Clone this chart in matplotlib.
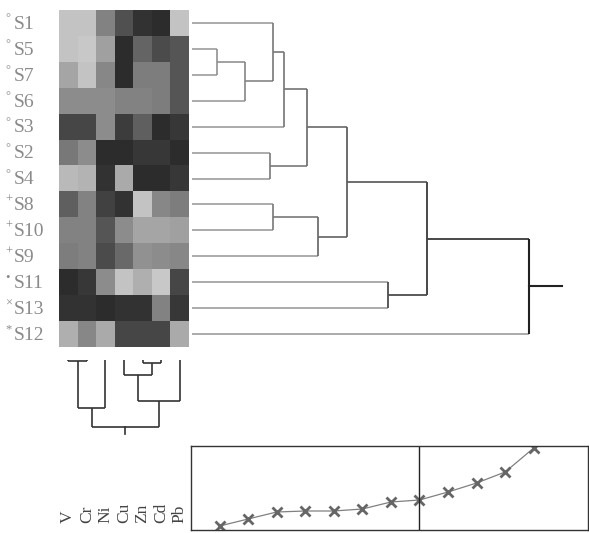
import numpy as np
import matplotlib
matplotlib.use('Agg')
import matplotlib.pyplot as plt
from matplotlib.transforms import blended_transform_factory

##------------------------------------------
# data
samples = ['S1', 'S5', 'S7', 'S6', 'S3', 'S2', 'S4', 'S8', 'S10', 'S9', 'S11', 'S13', 'S12']
marks = ['°', '°', '°', '°', '°', '°', '°', '+', '+', '+', '•', '×', '*']
metals = ['V', 'Cr', 'Ni', 'Cu', 'Zn', 'Cd', 'Pb']

# grey level of each cell (0 black .. 255 white), one row per sample
levels = [
    [195, 195, 130, 80, 50, 45, 195],
    [195, 200, 160, 45, 100, 75, 85],
    [165, 195, 135, 45, 125, 125, 85],
    [140, 140, 140, 130, 130, 125, 85],
    [70, 70, 140, 60, 95, 45, 55],
    [120, 140, 45, 45, 55, 55, 45],
    [185, 180, 50, 170, 45, 45, 55],
    [95, 130, 65, 50, 195, 135, 125],
    [130, 130, 85, 140, 165, 165, 160],
    [125, 130, 75, 105, 145, 140, 135],
    [45, 55, 140, 195, 175, 200, 70],
    [50, 50, 45, 50, 50, 130, 55],
    [175, 135, 170, 70, 70, 70, 170],
]

# row tree: (child a, child b, height); leaves are 0..12 in display order
row_merges = [(1, 2, 2.5), (13, 3, 5.3), (5, 6, 7.8), (0, 14, 8.1), (7, 8, 8.1),
              (16, 4, 9.2), (18, 15, 11.5), (17, 9, 12.6), (19, 20, 15.5),
              (10, 11, 19.6), (21, 22, 23.5), (23, 12, 33.7)]
row_root_end = 37.0

# column tree
col_merges = [(0, 1, 0.5), (4, 5, 3.0), (3, 8, 15.0), (9, 6, 41.0), (7, 2, 48.0), (11, 10, 67.0)]
col_root_end = 74.0

# merge heights (scree)
steps = [1, 2, 3, 4, 5, 6, 7, 8, 9, 10, 11, 12]
fusion = [4, 11, 18, 19, 19, 21, 28, 30, 38, 47, 58, 82]
cut_step = 8

W, H = 589, 533
serif = ['Liberation Serif', 'DejaVu Serif']


def box(x0, y0, x1, y1):
    # pixel box (top-left origin) -> figure fraction rect
    return [x0 / W, (H - y1) / H, (x1 - x0) / W, (y1 - y0) / H]


def tree_segments(n, merges):
    pos = list(range(n)) + [0.0] * len(merges)
    hgt = [0.0] * (n + len(merges))
    segs = []
    for k, (a, b, h) in enumerate(merges):
        node = n + k
        pos[node] = (pos[a] + pos[b]) / 2.0
        hgt[node] = h
        segs.append(((hgt[a], h), (pos[a], pos[a]), hgt[a]))
        segs.append(((hgt[b], h), (pos[b], pos[b]), hgt[b]))
        segs.append(((h, h), (pos[a], pos[b]), h))
    return segs, pos[-1], hgt[-1]


fig = plt.figure(figsize=(W / 100.0, H / 100.0), dpi=100)

#------------------------------------------------------------
# heat map
ax_heat = fig.add_axes(box(59, 10, 189, 347))
ax_heat.imshow(np.array(levels), cmap='gray', vmin=0, vmax=255, aspect='auto',
               interpolation='nearest')
ax_heat.axis('off')

tr = blended_transform_factory(fig.transFigure, ax_heat.transData)
for i, name in enumerate(samples):
    ax_heat.text(5 / W, i - 0.18, marks[i], transform=tr, ha='left', va='center',
                 fontsize=9, color='#8a8a8a', family=serif)
    ax_heat.text(14 / W, i + 0.05, name, transform=tr, ha='left', va='center',
                 fontsize=14, color='#8a8a8a', family=serif)

trc = blended_transform_factory(ax_heat.transData, fig.transFigure)
for j, name in enumerate(metals):
    ax_heat.text(j, 10 / H, name, transform=trc, rotation=90, ha='center', va='bottom',
                 fontsize=12.5, color='#444444', family=serif)

#------------------------------------------------------------
# row dendrogram
ax_row = fig.add_axes(box(192, 10, 589, 347))
segs, root_pos, root_h = tree_segments(len(samples), row_merges)
hmax = row_merges[-1][2]
for hs, ps, hc in segs:
    frac = hc / hmax
    g = 0.58 - 0.45 * frac
    ax_row.plot(hs, ps, color=(g, g, g), lw=1.1 + 0.4 * frac, solid_capstyle='butt')
ax_row.plot([root_h, row_root_end], [root_pos, root_pos], color='#222222', lw=1.5)
ax_row.set_xlim(0, 39.7)
ax_row.set_ylim(len(samples) - 0.5, -0.5)
ax_row.axis('off')

#------------------------------------------------------------
# column dendrogram
ax_col = fig.add_axes(box(59, 360, 189, 440))
segs, root_pos, root_h = tree_segments(len(metals), col_merges)
for hs, ps, hc in segs:
    ax_col.plot(ps, hs, color='#333333', lw=1.2, solid_capstyle='butt')
ax_col.plot([root_pos, root_pos], [root_h, col_root_end], color='#333333', lw=1.2)
ax_col.set_xlim(-0.5, len(metals) - 0.5)
ax_col.set_ylim(80, 0)
ax_col.axis('off')

#------------------------------------------------------------
# fusion level plot
ax_scree = fig.add_axes(box(191, 446, 588, 530))
ax_scree.plot(steps, fusion, color='#808080', lw=0.9, marker='x', ms=7, mew=2,
              mec='#666666')
ax_scree.axvline(cut_step, color='#222222', lw=1.0)
ax_scree.set_xlim(0, 13.9)
ax_scree.set_ylim(0, 84)
ax_scree.set_xticks([])
ax_scree.set_yticks([])
for s in ax_scree.spines.values():
    s.set_color('#333333')
    s.set_linewidth(1.0)

fig.savefig('out.png', dpi=100)
